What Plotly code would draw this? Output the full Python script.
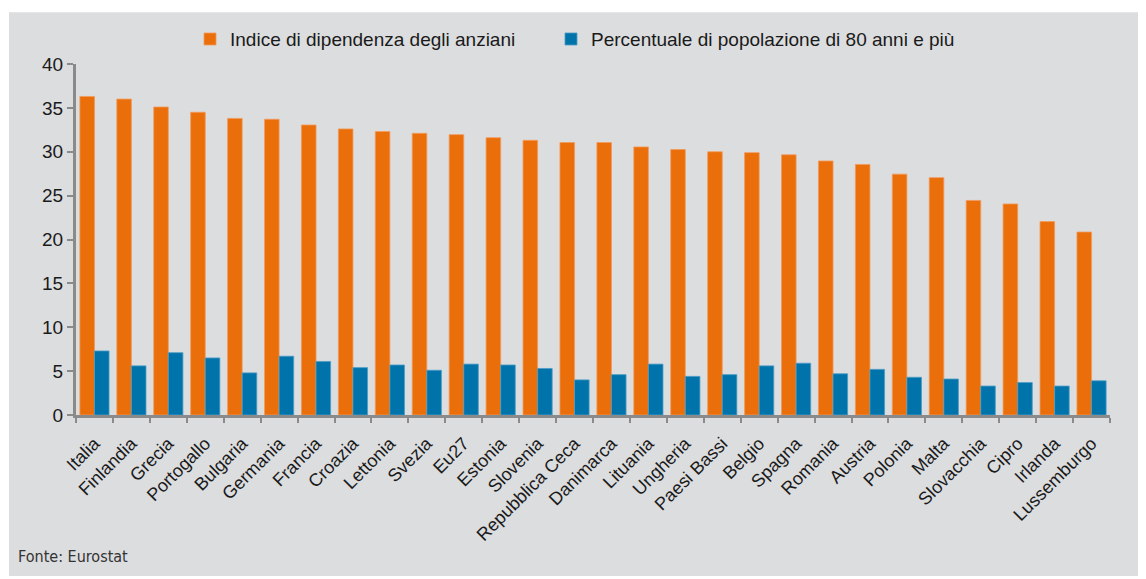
import plotly.graph_objects as go

# Dati (Fonte: Eurostat)
paesi = ['Italia', 'Finlandia', 'Grecia', 'Portogallo', 'Bulgaria', 'Germania', 'Francia',
         'Croazia', 'Lettonia', 'Svezia', 'Eu27', 'Estonia', 'Slovenia', 'Repubblica Ceca',
         'Danimarca', 'Lituania', 'Ungheria', 'Paesi Bassi', 'Belgio', 'Spagna', 'Romania',
         'Austria', 'Polonia', 'Malta', 'Slovacchia', 'Cipro', 'Irlanda', 'Lussemburgo']
indice_dipendenza = [36.3, 36.0, 35.1, 34.5, 33.8, 33.7, 33.05, 32.6, 32.3, 32.1, 31.95, 31.6,
                     31.3, 31.05, 31.05, 30.55, 30.25, 30.0, 29.9, 29.65, 28.95, 28.55, 27.45,
                     27.05, 24.45, 24.05, 22.05, 20.85]
perc_80_e_piu = [7.3, 5.6, 7.1, 6.5, 4.8, 6.7, 6.1, 5.4, 5.7, 5.1, 5.8, 5.7, 5.3, 4.0, 4.6,
                 5.8, 4.4, 4.6, 5.6, 5.9, 4.7, 5.2, 4.3, 4.1, 3.3, 3.7, 3.3, 3.9]
y_ticks = [0, 5, 10, 15, 20, 25, 30, 35, 40]

ORANGE = '#EA6E0A'
BLUE = '#0074AA'
BG = '#DCDDDF'
AXIS = '#8A8A8A'
FONT = 'Liberation Sans, Arial, sans-serif'

# la pagina ha un margine di 8px: la figura parte da (8, 8)
OFF = 8
W, H = 1146 - OFF, 579 - OFF
L, R, T, B = 76 - OFF, 36, 62 - OFF, 164
pw, ph = W - L - R, H - T - B


def px(x):  # coordinata x della pagina -> paper
    return (x - OFF - L) / pw


def py(y):  # coordinata y della pagina -> paper
    return (H - B - (y - OFF)) / ph


fig = go.Figure()
fig.add_trace(go.Bar(x=paesi, y=indice_dipendenza, name='Indice di dipendenza degli anziani',
                     legend='legend', showlegend=True,
                     marker=dict(color=ORANGE, line=dict(color='#F29A5A', width=0.8))))
fig.add_trace(go.Bar(x=paesi, y=perc_80_e_piu, name='Percentuale di popolazione di 80 anni e più',
                     legend='legend2', showlegend=True,
                     marker=dict(color=BLUE, line=dict(color='#4C9CC6', width=0.8))))

# sfondo grigio con bordo bianco
fig.add_shape(type='rect', xref='paper', yref='paper', layer='below',
              x0=px(9), x1=px(1144), y0=py(577), y1=py(10),
              fillcolor=BG, line=dict(width=0))

fig.add_annotation(text='Fonte: Eurostat', xref='paper', yref='paper',
                   x=px(16), y=py(557), xanchor='left', yanchor='middle', showarrow=False,
                   font=dict(family='Liberation Sans Narrow, DejaVu Sans Condensed, Arial Narrow, sans-serif',
                             size=16, color='#333333'))

legend_style = dict(orientation='h', xanchor='left', y=py(37), yanchor='middle', visible=True,
                    font=dict(size=19), bgcolor='rgba(0,0,0,0)')

fig.update_layout(
    width=W, height=H,
    margin=dict(l=L, r=R, t=T, b=B, pad=0),
    paper_bgcolor='white', plot_bgcolor='rgba(0,0,0,0)',
    barmode='group', bargap=0.21, bargroupgap=0,
    font=dict(family=FONT, color='#1a1a1a'),
    showlegend=True,
    legend=dict(x=px(231 - 41), **legend_style),
    legend2=dict(x=px(592 - 41), **legend_style),
    xaxis=dict(showline=True, linecolor=AXIS, linewidth=3, ticks='outside', tickson='boundaries',
               ticklen=5, tickwidth=2, tickcolor=AXIS, tickangle=-45, tickfont=dict(size=18),
               ticklabelstandoff=8, showgrid=False),
    yaxis=dict(range=[0, 40], tickvals=y_ticks, showline=True, linecolor=AXIS, linewidth=3,
               ticks='outside', ticklen=6, tickwidth=2, tickcolor=AXIS, tickfont=dict(size=19),
               showgrid=False, zeroline=False),
)

fig.write_html('out.html')
